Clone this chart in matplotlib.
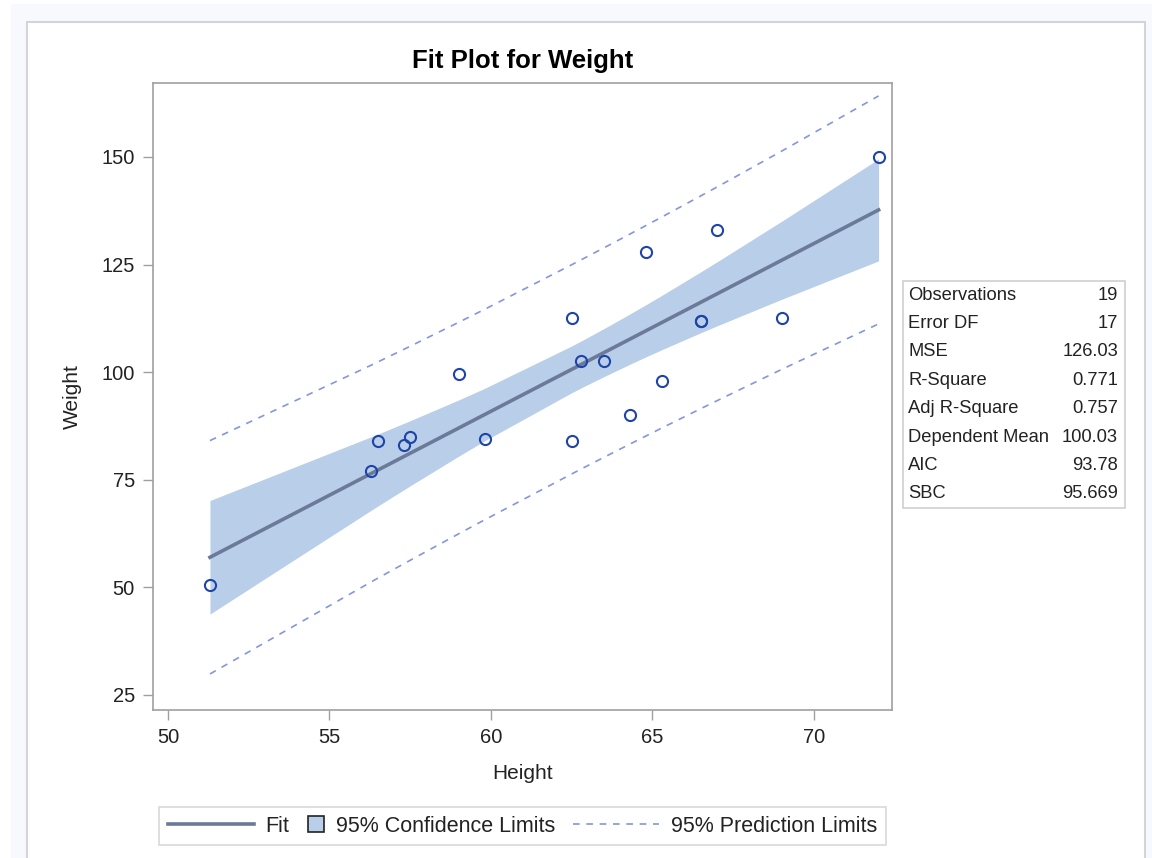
import matplotlib
matplotlib.use("Agg")
import matplotlib.pyplot as plt
from matplotlib.patches import Rectangle
from matplotlib.lines import Line2D
from matplotlib.legend_handler import HandlerPatch

plt.rcParams["font.family"] = ["Liberation Sans", "DejaVu Sans"]

# observations (Height, Weight)
height = [69.0, 56.5, 65.3, 62.8, 63.5, 57.3, 59.8, 62.5, 62.5, 59.0,
          51.3, 64.3, 56.3, 66.5, 72.0, 64.8, 67.0, 57.5, 66.5]
weight = [112.5, 84.0, 98.0, 102.5, 102.5, 83.0, 84.5, 112.5, 84.0, 99.5,
          50.5, 90.0, 77.0, 112.0, 150.0, 128.0, 133.0, 85.0, 112.0]

# fit line and limits at the sorted distinct heights
x_grid = [51.3, 56.3, 56.5, 57.3, 57.5, 59.0, 59.8, 62.5, 62.8, 63.5,
          64.3, 64.8, 65.3, 66.5, 67.0, 69.0, 72.0]
fit = [56.99, 76.49, 77.27, 80.39, 81.17, 87.02, 90.14, 100.66, 101.83, 104.56,
       107.68, 109.63, 111.58, 116.26, 118.21, 126.01, 137.70]
clm_lo = [43.80, 67.96, 68.91, 72.67, 73.60, 80.48, 84.04, 95.23, 96.38, 98.98,
          101.84, 103.57, 105.26, 109.18, 110.77, 116.94, 125.86]
clm_hi = [70.18, 85.02, 85.63, 88.11, 88.73, 93.55, 96.23, 106.10, 107.29, 110.14,
          113.52, 115.69, 117.90, 123.34, 125.65, 135.07, 149.55]
plm_lo = [29.88, 51.31, 52.15, 55.48, 56.30, 62.45, 65.68, 76.36, 77.53, 80.23,
          83.29, 85.18, 87.07, 91.54, 93.38, 100.65, 111.22]
plm_hi = [84.10, 101.66, 102.39, 105.30, 106.03, 111.59, 114.59, 124.97, 126.14, 128.90,
          132.08, 134.08, 136.10, 140.98, 143.03, 151.37, 164.19]

stat_names = ["Observations", "Error DF", "MSE", "R-Square", "Adj R-Square",
              "Dependent Mean", "AIC", "SBC"]
stat_values = ["19", "17", "126.03", "0.771", "0.757", "100.03", "93.78", "95.669"]

x_ticks = [50, 55, 60, 65, 70]
y_ticks = [25, 50, 75, 100, 125, 150]

BAND = "#b9cee8"
FIT = "#6b7a99"
MARK = "#1f44a8"
PRED = "#8596dc"
AXC = "#a0a0a0"
TXT = "#222222"

W, H = 1152, 858
fig = plt.figure(figsize=(W / 100, H / 100), dpi=100)
fig.patch.set_facecolor("white")


def px_rect(x0, y0, x1, y1, **kw):
    return Rectangle((x0 / W, 1 - y1 / H), (x1 - x0) / W, (y1 - y0) / H,
                     transform=fig.transFigure, **kw)


# page background and graph frame
fig.patches.append(px_rect(11, 4, W, H, facecolor="#f8f9fe", edgecolor="none", zorder=-3))
fig.patches.append(px_rect(27, 22, 1145, H + 5, facecolor="white",
                           edgecolor="#d4d4d4", linewidth=1.5, zorder=-2))

ax = fig.add_axes([153 / W, 1 - 710 / H, (892 - 153) / W, (710 - 83) / H])

ax.fill_between(x_grid, clm_lo, clm_hi, color=BAND, linewidth=0, zorder=1)
ax.plot(x_grid, fit, color=FIT, linewidth=2.6, zorder=2)
ax.plot(x_grid, plm_lo, color=PRED, linewidth=1.2, linestyle=(0, (4, 4)), zorder=2)
ax.plot(x_grid, plm_hi, color=PRED, linewidth=1.2, linestyle=(0, (4, 4)), zorder=2)
ax.plot(height, weight, linestyle="none", marker="o", markersize=8,
        markerfacecolor="none", markeredgecolor=MARK, markeredgewidth=1.5, zorder=3)

ax.set_xlim(49.536, 72.415)
ax.set_ylim(21.51, 167.19)
ax.set_xticks(x_ticks)
ax.set_yticks(y_ticks)
ax.tick_params(axis="both", length=7, width=1, color=AXC, labelsize=14.5,
               labelcolor=TXT, pad=6)
for s in ax.spines.values():
    s.set_color(AXC)
    s.set_linewidth(1.2)

ax.set_xlabel("Height", fontsize=15, color=TXT, labelpad=12)
ax.set_ylabel("Weight", fontsize=15, color=TXT, labelpad=14)
ax.set_title("Fit Plot for Weight", fontsize=18.5, fontweight="bold", color="black", pad=11)

# statistics inset table
fig.patches.append(px_rect(903, 281, 1125, 508, facecolor="white",
                           edgecolor="#cfcfcf", linewidth=1.2))
row_h = (508 - 281) / len(stat_names)
for i, (nm, val) in enumerate(zip(stat_names, stat_values)):
    yc = 1 - (281 + row_h * (i + 0.5)) / H
    fig.text(908 / W, yc, nm, ha="left", va="center", fontsize=13.2, color=TXT)
    fig.text(1118 / W, yc, val, ha="right", va="center", fontsize=13.2, color=TXT)


class SmallSquare(HandlerPatch):
    def legend_artist(self, legend, orig_handle, fontsize, handlebox):
        handlebox.width = 0.75 * fontsize
        return super().legend_artist(legend, orig_handle, fontsize, handlebox)

    def create_artists(self, legend, orig_handle, xdescent, ydescent, width, height,
                       fontsize, trans):
        s = 0.75 * fontsize
        p = Rectangle((-xdescent, -ydescent + height / 2 - s / 2), s, s,
                      facecolor=BAND, edgecolor="#222222", linewidth=1.2,
                      transform=trans)
        return [p]


h_fit = Line2D([], [], color=FIT, linewidth=2.6)
h_clm = Rectangle((0, 0), 1, 1, facecolor=BAND, edgecolor="#222222")
h_plm = Line2D([], [], color=PRED, linewidth=1.2, linestyle=(0, (4, 4)))
leg = fig.legend([h_fit, h_clm, h_plm],
                 ["Fit", "95% Confidence Limits", "95% Prediction Limits"],
                 handler_map={h_clm: SmallSquare()},
                 loc="center", bbox_to_anchor=(522.5 / W, 1 - 826 / H),
                 ncol=3, fontsize=15.5, frameon=True, fancybox=False,
                 edgecolor="#d0d0d0", handlelength=4.0, handletextpad=0.55,
                 columnspacing=0.85, borderpad=0.4, handleheight=0.8)
leg.get_frame().set_linewidth(1.2)
for t in leg.get_texts():
    t.set_color(TXT)

fig.savefig("out.png", dpi=100)
